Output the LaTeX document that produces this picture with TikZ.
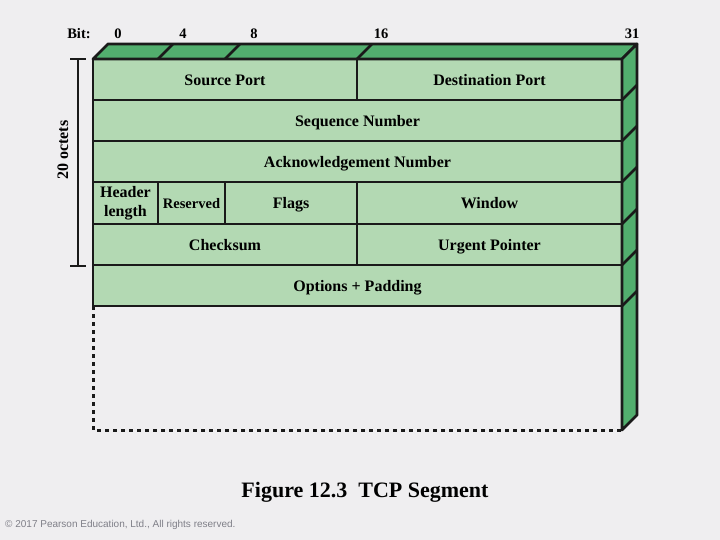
\documentclass[tikz,border=0pt]{standalone}
\usepackage{fontspec}
\setmainfont{Liberation Serif}
\newfontfamily\notefont{Liberation Sans}
\usetikzlibrary{positioning}
\definecolor{paper}{HTML}{EFEEF0}
\definecolor{facegreen}{HTML}{B3D9B3}
\definecolor{sidegreen}{HTML}{52AE6E}
\definecolor{edge}{HTML}{1A1A1A}
\definecolor{notegray}{HTML}{7F7F88}

\begin{document}
\begin{tikzpicture}[x=1pt,y=-1pt,
    field/.style={draw=edge,line width=2.8pt,fill=facegreen,inner sep=0pt,outer sep=0pt,
      anchor=north west,minimum height=41pt,align=center,
      text height=14pt,text depth=2pt,font=\fontsize{16}{16}\selectfont\bfseries},
    half/.style={field,minimum width=264pt},
    wide/.style={field,minimum width=529pt},
    rim/.style={draw=edge,line width=2.8pt,line join=round},
    bit/.style={font=\fontsize{14.5}{14.5}\selectfont\bfseries,inner sep=0pt}]
    % paper
    \path[fill=paper] (0,0) rectangle (720,540);
    % front face
    \node[half] (src) at (93,59) {Source Port};
    \node[field,minimum width=265pt,right=0pt of src] (dst) {Destination Port};
    \node[wide,below=0pt of src.south west,anchor=north west] (seq) {Sequence Number};
    \node[wide,below=0pt of seq.south west,anchor=north west] (ack) {Acknowledgement Number};
    \node[field,minimum width=65pt,minimum height=42pt,text height=,text depth=,
      font=\fontsize{16}{18.5}\selectfont\bfseries,
      below=0pt of ack.south west,anchor=north west] (hlen) {Header\\length};
    \node[field,minimum width=67pt,minimum height=42pt,font=\fontsize{14.5}{14.5}\selectfont\bfseries,
      right=0pt of hlen] (rsv) {Reserved};
    \node[field,minimum width=132pt,minimum height=42pt,right=0pt of rsv] (flags) {Flags};
    \node[field,minimum width=265pt,minimum height=42pt,right=0pt of flags] (win) {Window};
    \node[half,below=0pt of hlen.south west,anchor=north west] (chk) {Checksum};
    \node[field,minimum width=265pt,right=0pt of chk] (urg) {Urgent Pointer};
    \node[wide,below=0pt of chk.south west,anchor=north west] (opt) {Options + Padding};
    \coordinate (bl) at (93,430);
    \coordinate (br) at (622,430);
    % top and side faces
    \filldraw[rim,fill=sidegreen] (src.north west) -- ++(15,-15) -- ++(529,0)
      -- (dst.north east) -- cycle;
    \filldraw[rim,fill=sidegreen] (dst.north east) -- ++(15,-15) -- ++(0,371)
      -- (br) -- cycle;
    \foreach \n in {rsv,flags,dst}
      \draw[rim] (\n.north west |- src.north) -- ++(15,-15);
    \foreach \n in {dst,seq,ack,win,urg,opt}
      \draw[rim] (\n.south east) -- ++(15,-15);
    % open part below
    \draw[edge,line width=3pt,dash pattern=on 4pt off 4pt] (opt.south west) -- (bl) -- (br);
    % bit ruler
    \node[bit] (bitl) at (79,34) {Bit:};
    \node[bit] (b0) at (118,34) {0};
    \node[bit] (b4) at (183,34) {4};
    \node[bit] (b8) at (254,34) {8};
    \node[bit] (b16) at (381,34) {16};
    \node[bit] (b31) at (632,34) {31};
    % length bracket
    \coordinate (lt) at (78,59);
    \coordinate (lb) at (78,266);
    \draw[edge,line width=2.8pt] (lt) -- (lb) (lt) ++(-8,0) -- ++(16,0) (lb) ++(-8,0) -- ++(16,0);
    \node[bit,font=\fontsize{16}{16}\selectfont\bfseries,rotate=90] (oct) at (63,150) {20 octets};
    % caption
    \node[font=\fontsize{22}{22}\selectfont\bfseries] (cap) at (365,492) {Figure 12.3\ \ TCP Segment};
    \node[font=\notefont\fontsize{10}{10}\selectfont,text=notegray,anchor=west,inner sep=0pt]
      (copy) at (5,525) {© 2017 Pearson Education, Ltd., All rights reserved.};
\end{tikzpicture}
\end{document}
